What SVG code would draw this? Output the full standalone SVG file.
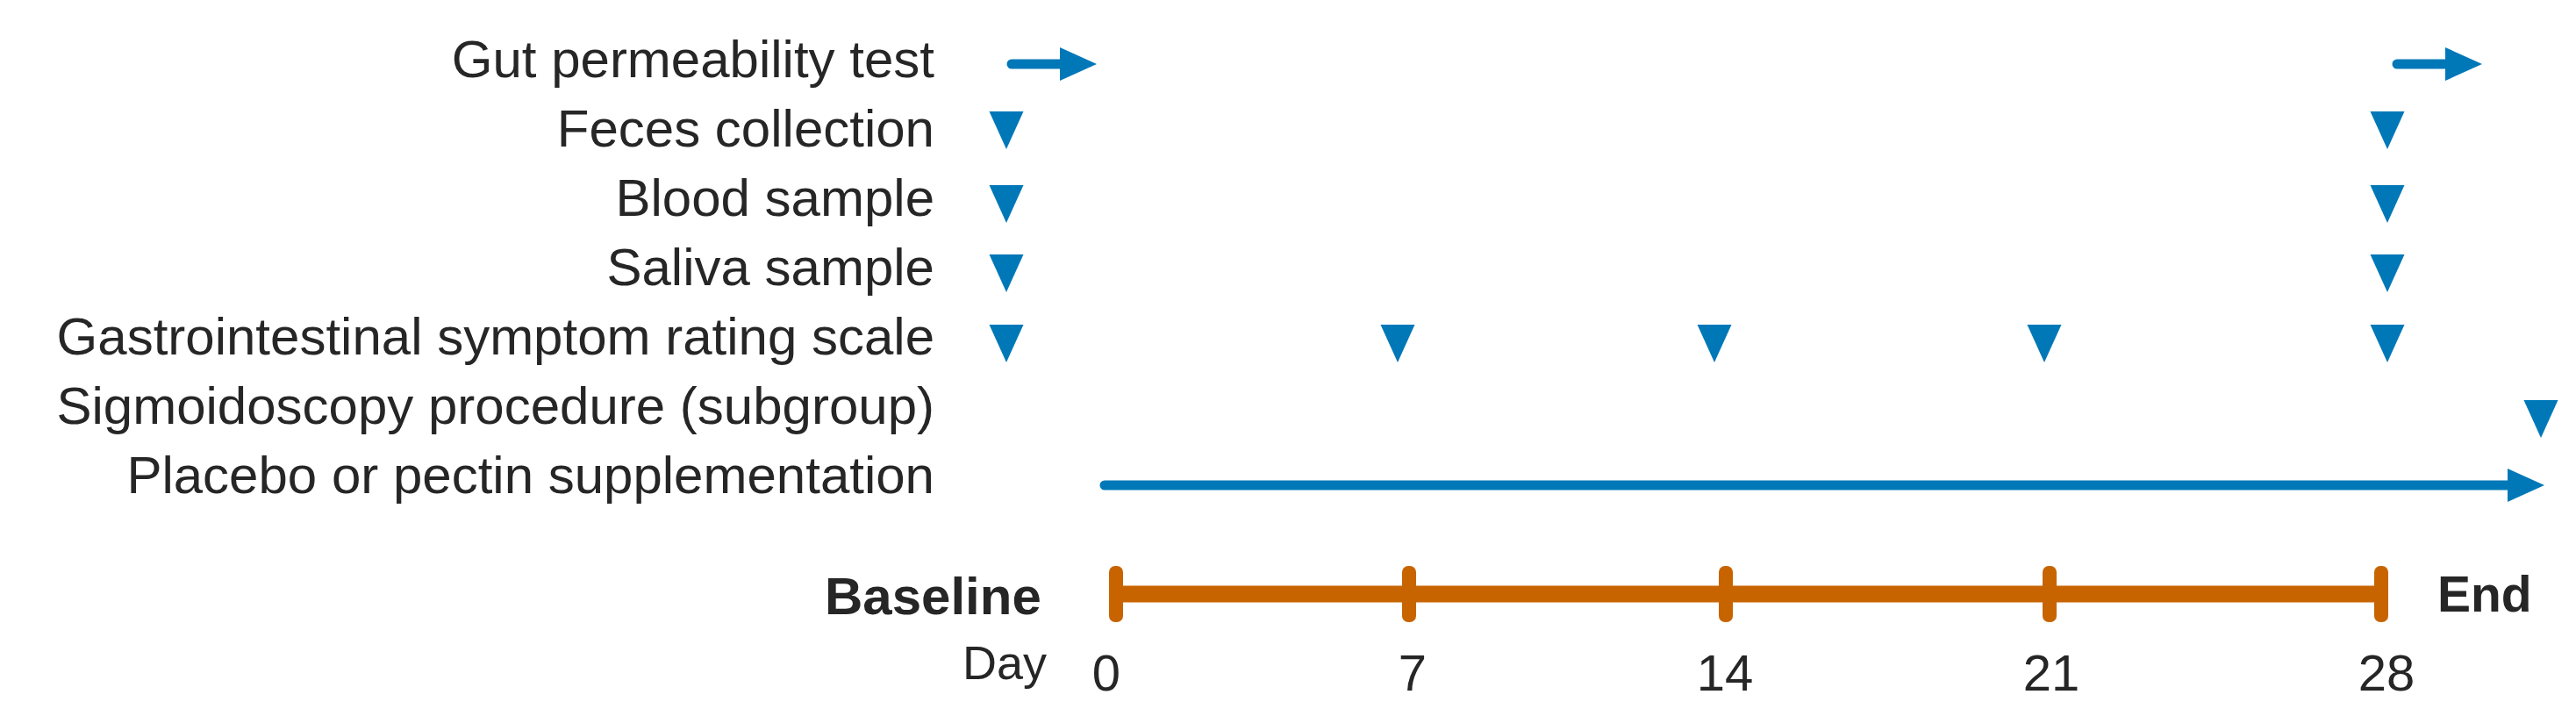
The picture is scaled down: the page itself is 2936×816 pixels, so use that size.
<svg xmlns="http://www.w3.org/2000/svg" xmlns:xlink="http://www.w3.org/1999/xlink" width="2936" height="816" viewBox="0 0 2936 816">
<style>
.lbl{font-family:"Liberation Sans",Arial,sans-serif;font-size:60px;fill:#262626;text-anchor:end}
.bold{font-family:"Liberation Sans",Arial,sans-serif;font-size:60px;font-weight:bold;fill:#262626}
.day{font-family:"Liberation Sans",Arial,sans-serif;font-size:58px;fill:#262626;text-anchor:middle}
.tri{fill:#0078B8}
.blue{stroke:#0078B8;stroke-width:11;stroke-linecap:round;fill:none}
.orange{stroke:#C86400;stroke-width:19;fill:none}
.tick{fill:#C86400}
</style>
<defs>
<marker id="head" markerUnits="userSpaceOnUse" markerWidth="42" markerHeight="40" refX="0" refY="19" orient="auto">
<path d="M0,0 L42,19 L0,38 Z" fill="#0078B8"/>
</marker>
<path id="tri" d="M-19.5,0 L19.5,0 L0,43 Z"/>
<rect id="tk" x="-8" y="-32" width="16" height="64" rx="7" ry="7"/>
</defs>
<rect width="2936" height="816" fill="#ffffff"/>

<g id="row-gut">
<text class="lbl" x="1065" y="88">Gut permeability test</text>
</g>
<g id="row-feces">
<text class="lbl" x="1065" y="167">Feces collection</text>
<use xlink:href="#tri" class="tri" x="1147" y="127"/>
<use xlink:href="#tri" class="tri" x="2721" y="127"/>
</g>
<g id="row-blood">
<text class="lbl" x="1065" y="246">Blood sample</text>
<use xlink:href="#tri" class="tri" x="1147" y="211"/>
<use xlink:href="#tri" class="tri" x="2721" y="211"/>
</g>
<g id="row-saliva">
<text class="lbl" x="1065" y="325">Saliva sample</text>
<use xlink:href="#tri" class="tri" x="1147" y="290"/>
<use xlink:href="#tri" class="tri" x="2721" y="290"/>
</g>
<g id="row-gsrs">
<text class="lbl" x="1065" y="404">Gastrointestinal symptom rating scale</text>
<use xlink:href="#tri" class="tri" x="1147" y="370"/>
<use xlink:href="#tri" class="tri" x="1593" y="370"/>
<use xlink:href="#tri" class="tri" x="1954" y="370"/>
<use xlink:href="#tri" class="tri" x="2330" y="370"/>
<use xlink:href="#tri" class="tri" x="2721" y="370"/>
</g>
<g id="row-sigmoid">
<text class="lbl" x="1065" y="483">Sigmoidoscopy procedure (subgroup)</text>
<use xlink:href="#tri" class="tri" x="2896" y="456"/>
</g>
<g id="row-placebo">
<text class="lbl" x="1065" y="562">Placebo or pectin supplementation</text>
</g>

<g id="timeline">
<text class="bold" x="940" y="700">Baseline</text>
<text class="bold" x="2778" y="697" style="font-size:57px">End</text>
<text class="lbl" x="1193" y="774" style="font-size:54px">Day</text>
<text class="day" x="1261" y="787">0</text>
<text class="day" x="1610" y="787">7</text>
<text class="day" x="1966" y="787">14</text>
<text class="day" x="2338" y="787">21</text>
<text class="day" x="2720" y="787">28</text>
</g>

<g id="connectors">
<line class="blue" x1="1153" y1="73" x2="1208" y2="73" marker-end="url(#head)"/>
<line class="blue" x1="2732" y1="73" x2="2787" y2="73" marker-end="url(#head)"/>
<line class="blue" x1="1259" y1="553" x2="2858" y2="553" marker-end="url(#head)"/>
<line class="orange" x1="1272" y1="677" x2="2714" y2="677"/>
<use xlink:href="#tk" class="tick" x="1272" y="677"/>
<use xlink:href="#tk" class="tick" x="1606" y="677"/>
<use xlink:href="#tk" class="tick" x="1967" y="677"/>
<use xlink:href="#tk" class="tick" x="2336" y="677"/>
<use xlink:href="#tk" class="tick" x="2714" y="677"/>
</g>
</svg>
